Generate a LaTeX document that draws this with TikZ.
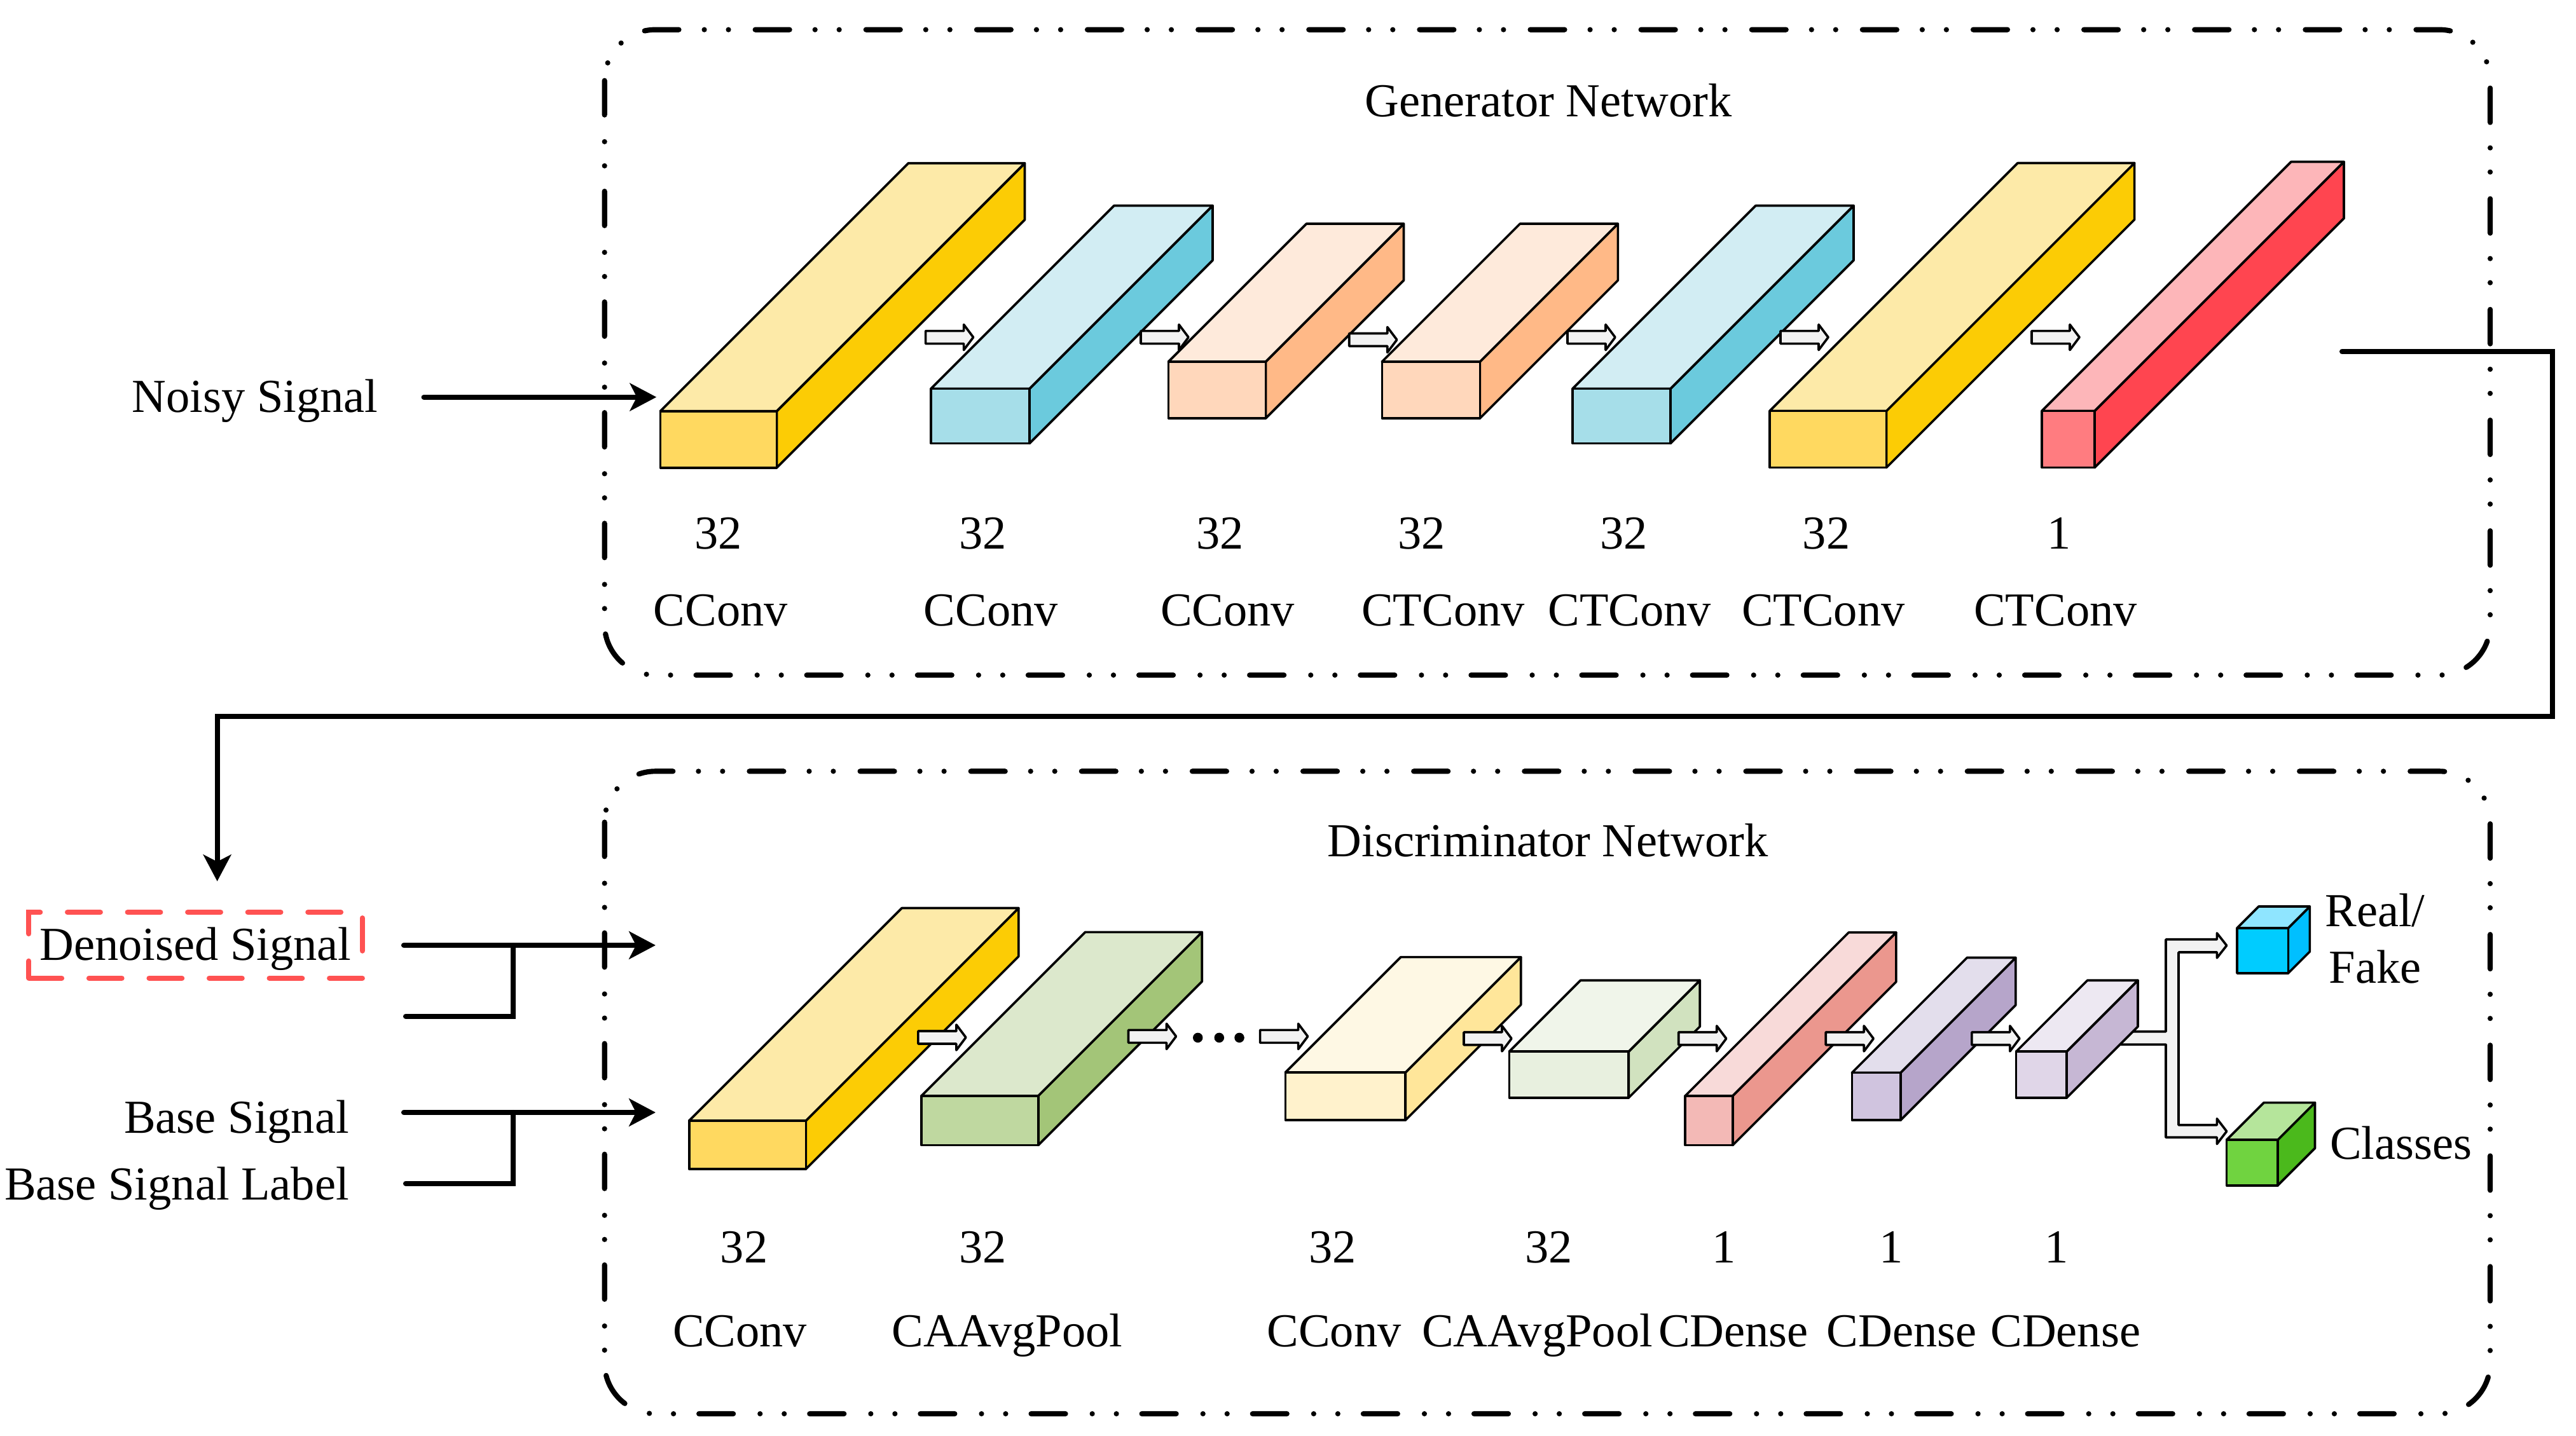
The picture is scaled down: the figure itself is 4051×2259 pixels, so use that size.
\documentclass[tikz,border=0pt]{standalone}
\usepackage{fontspec}
\setmainfont{Liberation Serif}
\usepackage{tikz}
\usepackage{xcolor}
\usetikzlibrary{arrows.meta}

\definecolor{ylwfront}{HTML}{FFD960}
\definecolor{ylwtop}{HTML}{FDEAA8}
\definecolor{ylwside}{HTML}{FCCC05}
\definecolor{cynfront}{HTML}{A6DEE9}
\definecolor{cyntop}{HTML}{D2EDF3}
\definecolor{cynside}{HTML}{6BCADD}
\definecolor{pchfront}{HTML}{FFD7BB}
\definecolor{pchtop}{HTML}{FEEADB}
\definecolor{pchside}{HTML}{FFB987}
\definecolor{redfront}{HTML}{FF7C80}
\definecolor{redtop}{HTML}{FDB6B9}
\definecolor{redside}{HTML}{FF4550}
\definecolor{grnfront}{HTML}{BFD8A0}
\definecolor{grntop}{HTML}{DCE8CC}
\definecolor{grnside}{HTML}{A3C578}
\definecolor{pylfront}{HTML}{FFF2CC}
\definecolor{pyltop}{HTML}{FEF8E4}
\definecolor{pylside}{HTML}{FFE69A}
\definecolor{pgnfront}{HTML}{E8F0DF}
\definecolor{pgntop}{HTML}{F0F5EA}
\definecolor{pgnside}{HTML}{D1E2BF}
\definecolor{pnkfront}{HTML}{F3B9B6}
\definecolor{pnktop}{HTML}{F8DAD9}
\definecolor{pnkside}{HTML}{EB978E}
\definecolor{lavfront}{HTML}{D0C4DF}
\definecolor{lavtop}{HTML}{E3DEEC}
\definecolor{lavside}{HTML}{B6A5CA}
\definecolor{llvfront}{HTML}{E0D6E8}
\definecolor{llvtop}{HTML}{EDE8F2}
\definecolor{llvside}{HTML}{C6B7D4}
\definecolor{blufront}{HTML}{00CCFF}
\definecolor{blutop}{HTML}{8FE5FF}
\definecolor{bluside}{HTML}{00BFFF}
\definecolor{gcbfront}{HTML}{70D340}
\definecolor{gcbtop}{HTML}{B5E59B}
\definecolor{gcbside}{HTML}{4BB91C}
\definecolor{arrowgray}{HTML}{F2F2F2}
\definecolor{dashred}{HTML}{FF5252}

% layer block: front bottom-left, width, height, depth, colour prefix
\newcommand{\convbar}[5]{%
  \draw[barline, fill=#5side] #1 ++(#2,0) -- ++(0,-#3) -- ++(#4,-#4) -- ++(0,#3) -- cycle;
  \draw[barline, fill=#5top] #1 ++(0,-#3) -- ++(#2,0) -- ++(#4,-#4) -- ++(-#2,0) -- cycle;
  \draw[barline, fill=#5front] #1 rectangle ++(#2,-#3);
}
% small block arrow between layers: left middle point
\newcommand{\flowarrow}[1]{%
  \draw[barline, fill=arrowgray] #1 ++(0,-10) -- ++(60,0) -- ++(0,-10) -- ++(15,20) -- ++(-15,20) -- ++(0,-10) -- ++(-60,0) -- cycle;
}

\begin{document}
\begin{tikzpicture}[
  x=0.038707mm, y=-0.038707mm,
  every node/.style={font=\fontsize{8.2}{9.8}\selectfont},
  lbl/.style={inner sep=0pt, anchor=base},
  barline/.style={line width=0.4pt, line join=round},
  netbox/.style={line width=0.9pt, line cap=round, rounded corners=0.31cm,
    dash pattern=on 0.209cm off 0.163cm on 0cm off 0.147cm on 0cm off 0.155cm},
  noisebox/.style={draw=dashred, line width=0.9pt, line cap=round, dash pattern=on 0.2cm off 0.166cm,
    minimum width=2.03cm, minimum height=0.401cm, text height=0.19cm, text depth=0.01cm, inner sep=0pt},
  conn/.style={line width=0.9pt, line cap=round, -{Stealth[length=4.6pt, width=4.8pt, inset=1.2pt]}},
  link/.style={line width=0.9pt, line cap=round}
]
\useasboundingbox (0,0) rectangle (4051,2259);

% Frames
\draw[netbox] (950.7,46.7) rectangle (3916,1062);
\draw[netbox] (950.7,1213.3) rectangle (3916,2224);
\node[lbl] (gentitle) at (2435,183.8) {Generator Network};
\node[lbl] (distitle) at (2434,1347) {Discriminator Network};

% Generator layers
\convbar{(1038.5,735.7)}{183}{89}{390}{ylw}
\flowarrow{(1455.6,530.6)}
\convbar{(1464,697.5)}{155}{86}{288}{cyn}
\flowarrow{(1794,530.6)}
\convbar{(1837.5,658)}{153}{89}{217}{pch}
\flowarrow{(2121.7,534.5)}
\convbar{(2173.3,658)}{154}{89}{217}{pch}
\flowarrow{(2465,530.6)}
\convbar{(2473,697.5)}{154}{86}{288}{cyn}
\flowarrow{(2800,530.6)}
\convbar{(2783,735.5)}{183.6}{89}{390}{ylw}
\flowarrow{(3195,530.6)}
\convbar{(3211,735.5)}{83}{89}{392}{red}

% Generator labels
\node[lbl] (gnum1) at (1129.4,864) {32};
\node[lbl] (gnum2) at (1545.5,864) {32};
\node[lbl] (gnum3) at (1918.6,864) {32};
\node[lbl] (gnum4) at (2235.9,864) {32};
\node[lbl] (gnum5) at (2553.2,864) {32};
\node[lbl] (gnum6) at (2872,864) {32};
\node[lbl] (gnum7) at (3238,864) {1};
\node[lbl] (gname1) at (1133.4,985) {CConv};
\node[lbl] (gname2) at (1558.3,985) {CConv};
\node[lbl] (gname3) at (1930.5,985) {CConv};
\node[lbl] (gname4) at (2269.4,985) {CTConv};
\node[lbl] (gname5) at (2562.7,985) {CTConv};
\node[lbl] (gname6) at (2867.3,985) {CTConv};
\node[lbl] (gname7) at (3232.4,985) {CTConv};

% Discriminator layers
\convbar{(1083.7,1839)}{183.6}{76}{334.5}{ylw}
\flowarrow{(1443.9,1632)}
\convbar{(1449,1801.5)}{183.7}{77.6}{257.5}{grn}
\flowarrow{(1774.5,1630.4)}
\fill (1883.7,1632.4) circle[radius=0.03cm] (1917.3,1632.4) circle[radius=0.03cm] (1949,1632.4) circle[radius=0.03cm];
\flowarrow{(1981.6,1630.4)}
\convbar{(2021.4,1762.1)}{188.8}{75}{181.5}{pyl}
\flowarrow{(2302,1633.8)}
\convbar{(2373.5,1726.9)}{187.7}{72.7}{112}{pgn}
\flowarrow{(2639.7,1633.8)}
\convbar{(2650.2,1801.5)}{74.6}{77.6}{257}{pnk}
\flowarrow{(2871.2,1633.8)}
\convbar{(2912.3,1762.1)}{76.5}{74.6}{181}{lav}
\flowarrow{(3100.8,1633.8)}
\draw[barline, fill=arrowgray] (3333.2,1622.8) -- (3406,1622.8) -- (3406,1477.8) -- (3486.3,1477.8)
  -- (3486.3,1467.9) -- (3501.6,1487.4) -- (3486.3,1506.9) -- (3486.3,1498) -- (3426,1498)
  -- (3426,1769.8) -- (3486.3,1769.8) -- (3486.3,1759.8) -- (3501.6,1779.7) -- (3486.3,1799.6)
  -- (3486.3,1789.3) -- (3406,1789.3) -- (3406,1643.1) -- (3333.2,1643.1) -- cycle;
\convbar{(3170.6,1726.9)}{79.4}{72.7}{112}{llv}

% Outputs
\convbar{(3517.9,1531)}{80.4}{71}{34}{blu}
\convbar{(3501.6,1864.7)}{80.4}{71.6}{58.5}{gcb}
\node[lbl, align=center] (realfake) at (3735,1546) {Real/\\Fake};
\node[lbl, anchor=base west] (classes) at (3662.3,1823.3) {Classes};

% Discriminator labels
\node[lbl] (dnum1) at (1170,1986) {32};
\node[lbl] (dnum2) at (1545.5,1986) {32};
\node[lbl] (dnum3) at (2095.6,1986) {32};
\node[lbl] (dnum4) at (2435.2,1986) {32};
\node[lbl] (dnum5) at (2711,1986) {1};
\node[lbl] (dnum6) at (2974,1986) {1};
\node[lbl] (dnum7) at (3234,1986) {1};
\node[lbl] (dname1) at (1163.6,2118.3) {CConv};
\node[lbl] (dname2) at (1583.8,2118.3) {CAAvgPool};
\node[lbl] (dname3) at (2098,2118.3) {CConv};
\node[lbl] (dname4) at (2417.6,2118.3) {CAAvgPool};
\node[lbl] (dname5) at (2726.1,2118.3) {CDense};
\node[lbl] (dname6) at (2990.8,2118.3) {CDense};
\node[lbl] (dname7) at (3248.3,2118.3) {CDense};

% Inputs
\node[lbl] (noisy) at (401,648.5) {Noisy Signal};
\node[noisebox] (denoised) at (307.6,1486.9) {Denoised Signal};
\node[lbl, anchor=base east] (base) at (550.7,1782.4) {Base Signal};
\node[lbl, anchor=base east] (baselabel) at (550.7,1887.7) {Base Signal Label};

\coordinate (noisyout) at (666.6,624.7);
\coordinate (gin) at (1032.3,624.7);
\coordinate (genout) at (3683,553);
\coordinate (loopR) at (4013.6,1126.7);
\coordinate (denin) at (341.6,1386.4);
\coordinate (denout) at (635,1487);
\coordinate (denstub) at (638,1598.8);
\coordinate (dinA) at (1031,1487);
\coordinate (juncA) at (806.7,1487);
\coordinate (baseout) at (635,1750);
\coordinate (labstub) at (638,1861.7);
\coordinate (dinB) at (1031,1750);
\coordinate (juncB) at (806.7,1750);

% Arrows
\draw[conn] (noisyout) -- (gin);
\draw[conn] (genout) -| (loopR) -| (denin);
\draw[conn] (denout) -- (dinA);
\draw[link] (denstub) -| (juncA);
\draw[conn] (baseout) -- (dinB);
\draw[link] (labstub) -| (juncB);

\end{tikzpicture}
\end{document}
